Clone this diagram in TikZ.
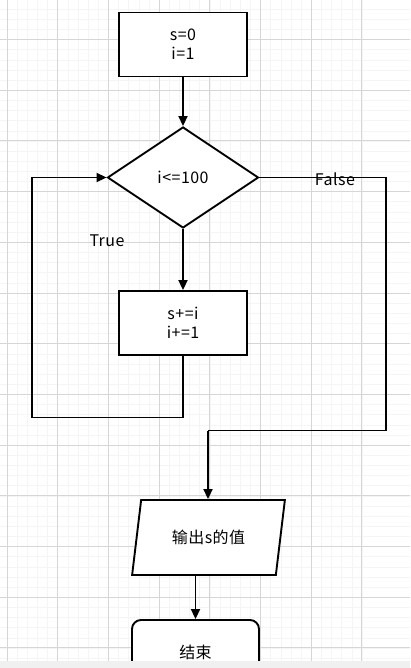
\documentclass[tikz,border=0pt]{standalone}
\usepackage{fontspec}
\setmainfont[LetterSpace=3]{Noto Sans CJK SC}
\usetikzlibrary{shapes.geometric,arrows.meta}
\begin{document}
\begin{tikzpicture}[x=1pt,y=-1pt,
  font=\fontsize{16}{19}\selectfont,
  line/.style={line width=1.9pt},
  arr/.style={line, -{Triangle[length=10pt,width=9pt]}},
  procbox/.style={draw, line width=1.9pt, minimum width=128pt, minimum height=64pt, inner sep=0pt, align=center},
  decision/.style={draw, diamond, line width=1.9pt, minimum width=151pt, minimum height=101pt, inner sep=0pt, aspect=1.5},
  iobox/.style={draw, trapezium, trapezium stretches=true, line width=1.9pt, minimum width=153pt, minimum height=75pt, trapezium left angle=71.6, trapezium right angle=108.4, inner sep=0pt},
  endbox/.style={draw, rounded corners=9pt, line width=1.9pt, minimum width=127pt, minimum height=64pt, inner sep=0pt},
  lbl/.style={inner sep=0pt}]
\useasboundingbox (0,0) rectangle (410,668);
\clip (0,0) rectangle (410,668);
% grid
\foreach \k in {0,...,40} {
  \draw[black!4, line width=0.5pt] ({7+10.14*\k-50.7},0) -- ({7+10.14*\k-50.7},668);
}
\foreach \k in {0,...,70} {
  \draw[black!4, line width=0.5pt] (0,{39.5+10.14*\k-50.7}) -- (410,{39.5+10.14*\k-50.7});
}
\foreach \k in {0,...,8} {
  \draw[black!16, line width=0.9pt] ({7+50.7*\k},0) -- ({7+50.7*\k},668);
}
\foreach \k in {-1,...,13} {
  \draw[black!16, line width=0.9pt] (0,{39.5+50.7*\k}) -- (410,{39.5+50.7*\k});
}

% nodes
\node[procbox, fill=white] (init) at (183,44.5) {s=0\\i=1};
\node[decision, fill=white] (cond) at (183,177.5) {i<=100};
\node[procbox, fill=white] (body) at (183,323) {s+=i\\i+=1};
\node[iobox, fill=white] (out) at (208.5,537.5) {输出s的值};
\node[endbox, fill=white] (stop) at (195.5,652) {结束};

\coordinate (lb) at (32,417.5);
\coordinate (lt) at (32,177.5);
\coordinate (rt) at (386,177.5);
\coordinate (rb) at (386,430.5);
\coordinate (mb) at (208,430.5);

% connectors
\draw[arr] (init) -- (cond);
\draw[arr] (cond) -- (body);
\draw[arr] (body.south) |- (lb) -- (lt) -- (cond.west);
\draw[line] (cond.east) -- (rt) -- (rb) -- (mb);
\draw[arr] (mb) -- (mb |- out.north);
\draw[arr] (stop.north |- out.south) -- (stop.north);

% labels
\node[lbl] (truelbl) at (107,241) {True};
\node[lbl] (falselbl) at (335,179) {False};

% bottom bar
\fill[black!6] (0,661) rectangle (410,668);
\end{tikzpicture}
\end{document}
